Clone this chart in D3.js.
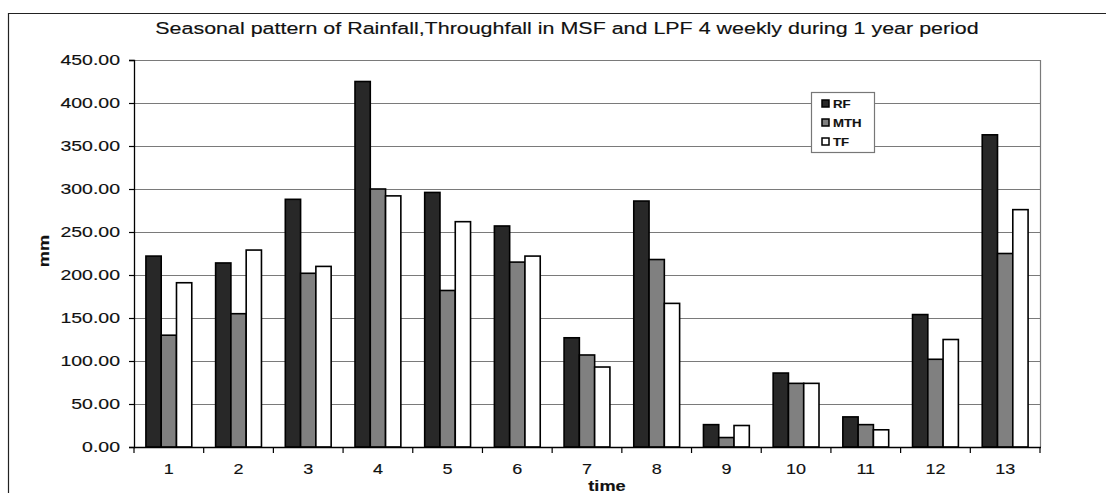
<!DOCTYPE html>
<html>
<head>
<meta charset="utf-8">
<script src="https://cdn.jsdelivr.net/npm/d3@7"></script>
<style>
  body { margin: 0; background: #fff; }
  svg { display: block; font-family: "Liberation Sans", Arial, sans-serif; }
  svg text { stroke: #111; stroke-width: 0.15px; }
</style>
</head>
<body>
<svg id="chart" width="1106" height="493"></svg>
<script>
// 4-weekly periods over one year
const periods = ["1","2","3","4","5","6","7","8","9","10","11","12","13"];
const seriesNames = ["RF", "MTH", "TF"];
// Rainfall (mm)
const rf  = [222, 214, 288, 425, 296, 257, 127, 286, 26, 86, 35, 154, 363];
// Throughfall in MSF (mm)
const mth = [130, 155, 202, 300, 182, 215, 107, 218, 11, 74, 26, 102, 225];
// Throughfall in LPF (mm)
const tf  = [191, 229, 210, 292, 262, 222, 93, 167, 25, 74, 20, 125, 276];
const yTicks = [0, 50, 100, 150, 200, 250, 300, 350, 400, 450];

const fills = { RF: "#282828", MTH: "#808080", TF: "#ffffff" };
const rows = periods.map((p, i) => ({ period: p, RF: rf[i], MTH: mth[i], TF: tf[i] }));

// the typeface is drawn slightly wide
const SX = 1.3;

const svg = d3.select("#chart");
const m = { left: 134, right: 1040, top: 60, bottom: 447 };

// helper: horizontally stretched text anchored at (x, y)
function label(parent, x, y, str, opts) {
  const g = parent.append("g").attr("transform", `translate(${x},${y}) scale(${opts.sx || SX},1)`);
  return g.append("text")
    .attr("text-anchor", opts.anchor || "middle")
    .attr("font-size", opts.size)
    .attr("font-weight", opts.weight || "normal")
    .attr("fill", "#111")
    .text(str);
}

// outer chart frame
svg.append("path")
  .attr("d", "M8.5,500 V13.5 H1110")
  .attr("fill", "none").attr("stroke", "#222").attr("stroke-width", 1.2);

const x = d3.scaleBand().domain(periods).range([m.left, m.right]);
const xi = d3.scaleBand().domain(seriesNames).range([0, x.bandwidth()]).paddingInner(0).paddingOuter(0.78);
const y = d3.scaleLinear().domain([0, 450]).range([m.bottom, m.top]);

// horizontal gridlines
svg.append("g").selectAll("line").data(yTicks.filter(t => t > 0)).join("line")
  .attr("x1", m.left).attr("x2", m.right)
  .attr("y1", d => y(d) + 0.5).attr("y2", d => y(d) + 0.5)
  .attr("stroke", "#7a7a7a").attr("stroke-width", 1.2);

// right border of plot area
svg.append("line")
  .attr("x1", m.right + 0.5).attr("x2", m.right + 0.5)
  .attr("y1", m.top).attr("y2", m.bottom)
  .attr("stroke", "#7a7a7a").attr("stroke-width", 1.2);

// bars
const groups = svg.append("g").selectAll("g").data(rows).join("g")
  .attr("transform", d => `translate(${x(d.period)},0)`);
groups.selectAll("rect").data(d => seriesNames.map(k => ({ key: k, value: d[k] }))).join("rect")
  .attr("x", d => xi(d.key))
  .attr("width", xi.bandwidth())
  .attr("y", d => y(d.value))
  .attr("height", d => y(0) - y(d.value))
  .attr("fill", d => fills[d.key])
  .attr("stroke", "#000").attr("stroke-width", 1.6);

// y axis
const yAxis = svg.append("g").attr("transform", `translate(${m.left},0)`)
  .call(d3.axisLeft(y).tickValues(yTicks).tickFormat(d3.format(".2f")).tickSize(5).tickPadding(9));
yAxis.select(".domain").attr("stroke", "#000").attr("stroke-width", 1.3);
yAxis.selectAll(".tick line").attr("stroke", "#000").attr("stroke-width", 1.2);
yAxis.selectAll("text")
  .attr("x", -14 / SX)
  .attr("transform", `scale(${SX},1)`)
  .attr("font-size", 15).attr("fill", "#111")
  .attr("font-family", "Liberation Sans, Arial, sans-serif");

// x axis with ticks at category boundaries
const xAxis = svg.append("g").attr("transform", `translate(0,${m.bottom})`);
xAxis.append("line").attr("x1", m.left).attr("x2", m.right + 1)
  .attr("y1", 0.5).attr("y2", 0.5).attr("stroke", "#000").attr("stroke-width", 1.3);
const boundaries = periods.map(p => x(p)).concat([m.right]);
xAxis.selectAll("line.tk").data(boundaries).join("line").attr("class", "tk")
  .attr("x1", d => d).attr("x2", d => d).attr("y1", 0).attr("y2", 6)
  .attr("stroke", "#000").attr("stroke-width", 1.2);
periods.forEach(p => label(xAxis, x(p) + x.bandwidth() / 2, 27, p, { size: 15, sx: 1.2 }));

// titles
label(svg, 567, 34, "Seasonal pattern of Rainfall,Throughfall in MSF and LPF 4 weekly during 1 year period", { size: 16.5 });
label(svg, 607, 491, "time", { size: 14, weight: "bold" });
svg.append("g").attr("transform", "translate(49,251) rotate(-90)")
  .append("g").attr("transform", `scale(${SX},1)`)
  .append("text").attr("text-anchor", "middle")
  .attr("font-size", 14).attr("font-weight", "bold").attr("fill", "#111").text("mm");

// legend
const lg = svg.append("g").attr("transform", "translate(811,92)");
lg.append("rect").attr("x", 0.5).attr("y", 0.5).attr("width", 63).attr("height", 60)
  .attr("fill", "#fff").attr("stroke", "#777").attr("stroke-width", 1.2);
seriesNames.forEach((k, i) => {
  const g = lg.append("g").attr("transform", `translate(11,${8 + i * 19})`);
  g.append("rect").attr("width", 7).attr("height", 7).attr("fill", fills[k])
    .attr("stroke", "#000").attr("stroke-width", 1.5);
  label(g, 11, 8, k, { size: 11, weight: "bold", anchor: "start", sx: 1.2 });
});
</script>
</body>
</html>
